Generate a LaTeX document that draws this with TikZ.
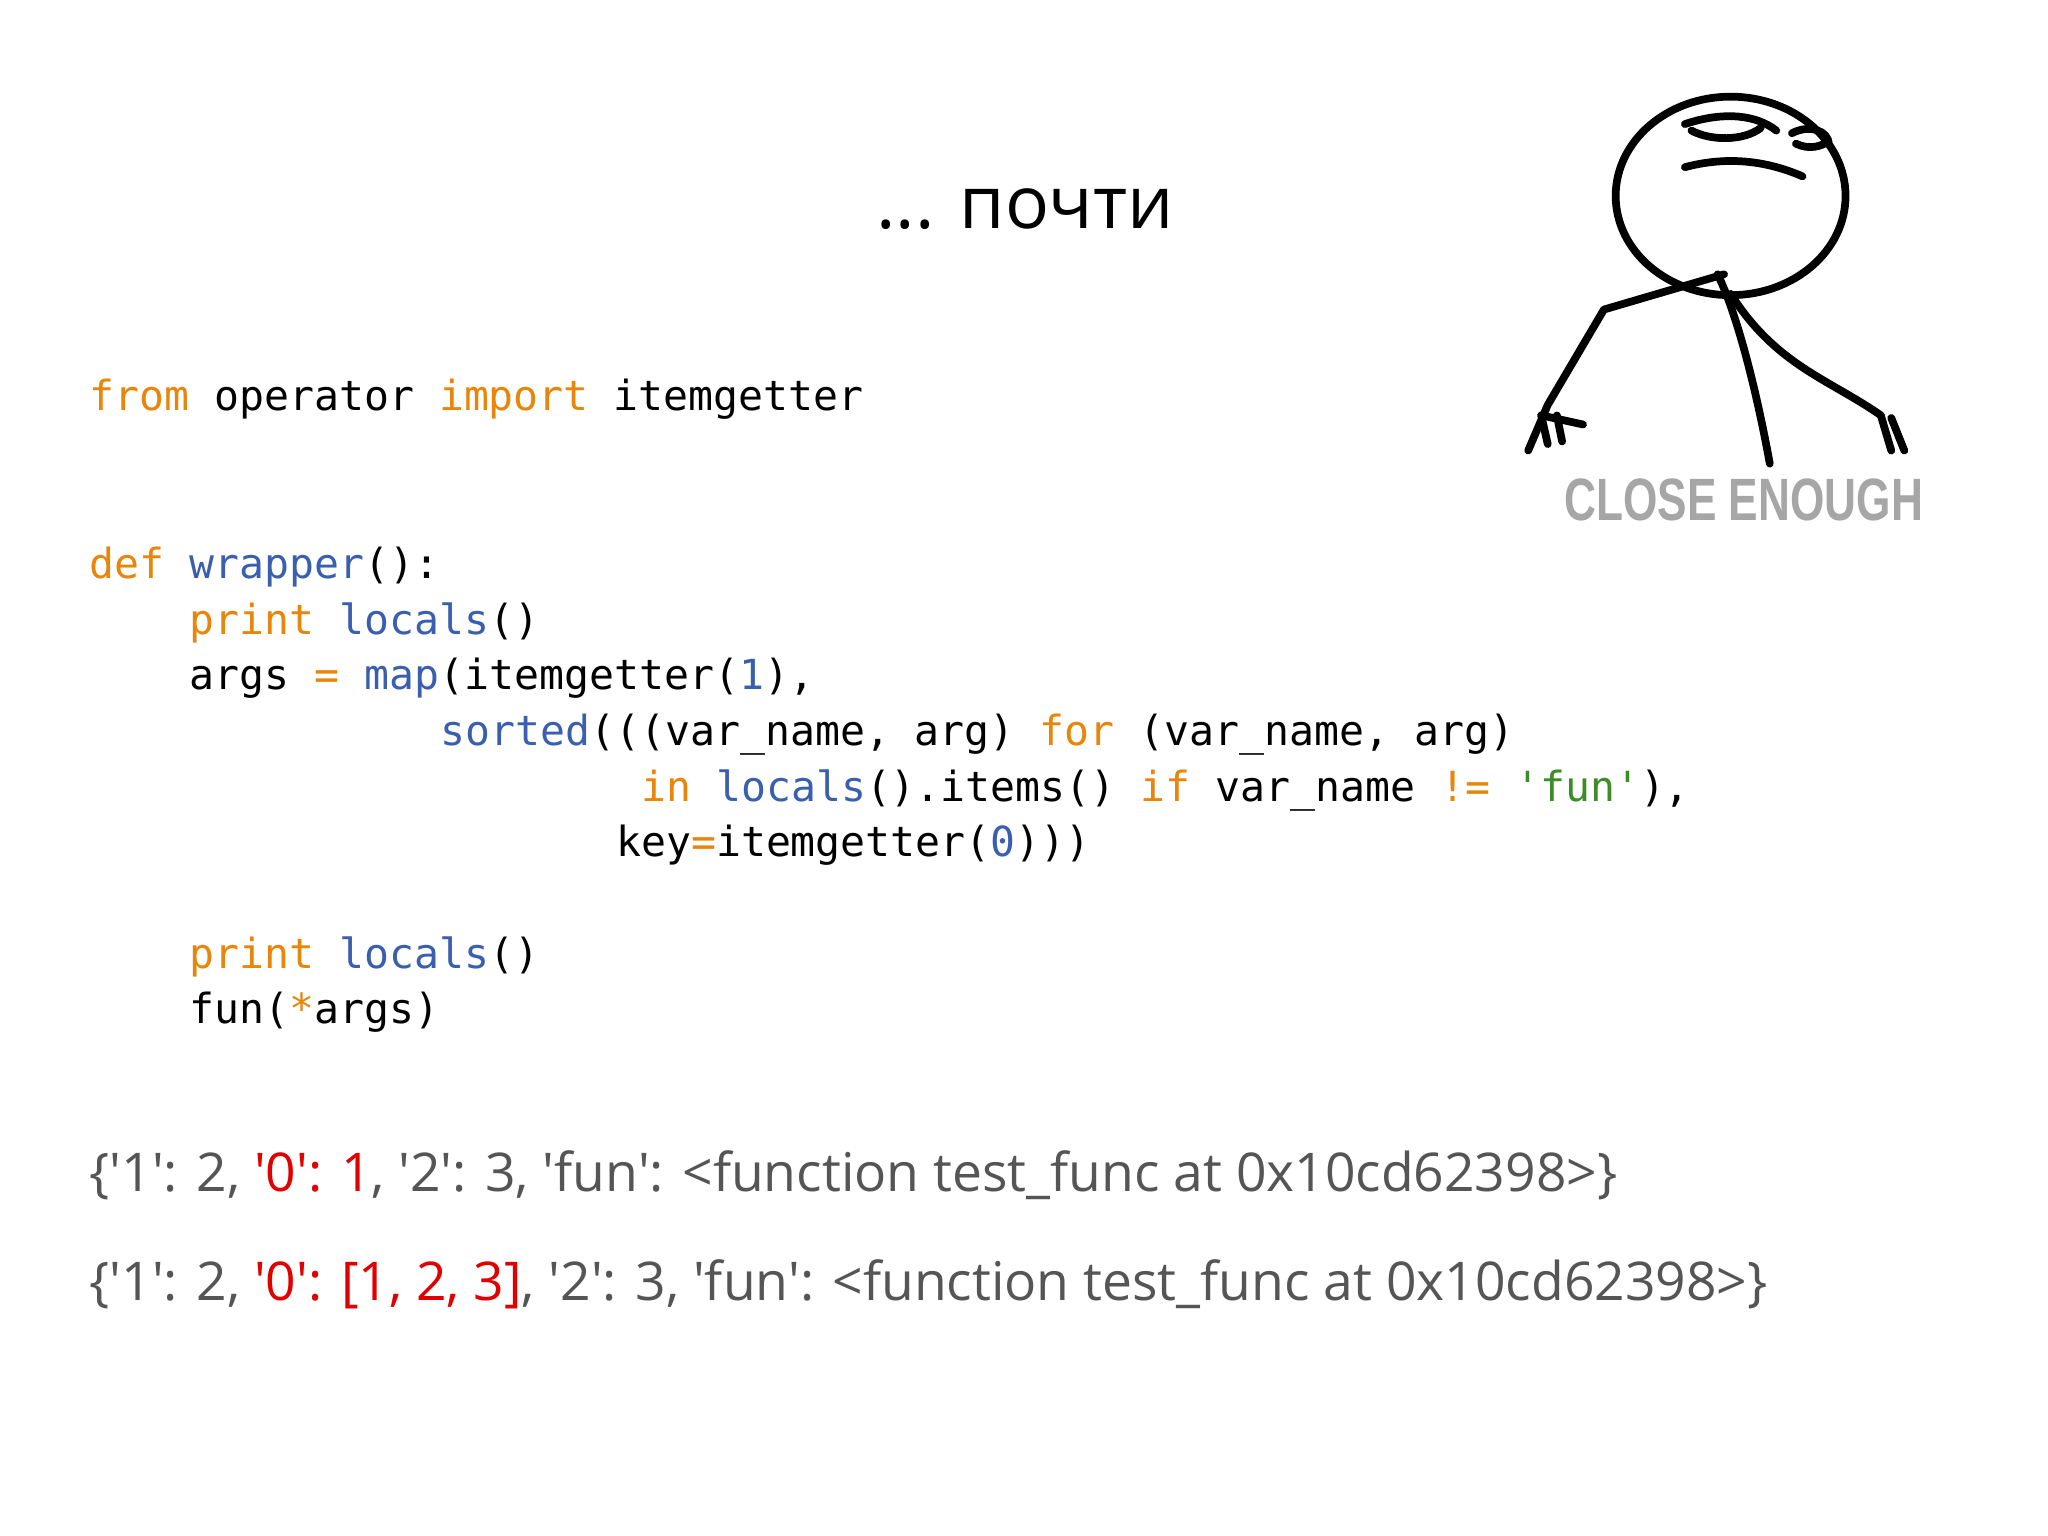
\documentclass[tikz,border=0pt]{standalone}
\usepackage{fontspec}
\newfontfamily\cod{DejaVu Sans Mono}
\newfontfamily\sans{Open Sans}
\newfontfamily\memef{Liberation Sans}
\definecolor{kw}{RGB}{232,134,12}
\definecolor{fn}{RGB}{58,95,175}
\definecolor{st}{RGB}{60,140,40}
\definecolor{rd}{RGB}{225,0,0}
\definecolor{gr}{RGB}{85,85,85}
\newcommand{\K}[1]{\textcolor{kw}{#1}}
\newcommand{\F}[1]{\textcolor{fn}{#1}}
\begin{document}
\begin{tikzpicture}[
  code/.style={anchor=base west,inner sep=0pt,font=\cod\fontsize{11.8pt}{15.8pt}\selectfont},
  outp/.style={anchor=base west,inner sep=0pt,text=gr,font=\sans\fontsize{15.2pt}{18pt}\selectfont},
  ink/.style={line width=2.2pt,line cap=round,line join=round}]
\useasboundingbox (0,0) rectangle (20.48,-15.36);
\node[anchor=base,inner sep=0pt,font=\sans\fontsize{20.8pt}{24pt}\selectfont] (title) at (10.25,-2.29) {... почти};
\node[code] (l1) at (0.888,-4.11) {\K{from} operator \K{import} itemgetter};
\node[code] (l2) at (0.888,-5.79) {\K{def} \F{wrapper}():};
\node[code] (l3) at (1.891,-6.35) {\K{print} \F{locals}()};
\node[code] (l4) at (1.891,-6.90) {args \K{=} \F{map}(itemgetter(\F{1}),};
\node[code] (l5) at (4.399,-7.46) {\F{sorted}(((var\_name, arg) \K{for} (var\_name, arg)};
\node[code] (l6) at (6.406,-8.01) {\K{in} \F{locals}().items() \K{if} var\_name \K{!=} \textcolor{st}{'fun'}),};
\node[code] (l7) at (6.155,-8.57) {key\K{=}itemgetter(\F{0})))};
\node[code] (l8) at (1.891,-9.68) {\K{print} \F{locals}()};
\node[code] (l9) at (1.891,-10.23) {fun(\K{*}args)};
\node[outp] (o1) at (0.888,-11.91) {\{'1': 2, \textcolor{rd}{'0': 1}, '2': 3, 'fun': <function test\_func at 0x10cd62398>\}};
\node[outp] (o2) at (0.888,-13.0) {\{'1': 2, \textcolor{rd}{'0': [1, 2, 3]}, '2': 3, 'fun': <function test\_func at 0x10cd62398>\}};
\begin{scope}[x=0.01306cm,y=-0.01306cm]
 \draw[ink] (1325,150) ellipse [x radius=88,y radius=76];
 \draw[ink] (1290,95) .. controls (1320,85) and (1345,88) .. (1360,100);
 \draw[ink] (1295,100) .. controls (1310,108) and (1335,108) .. (1348,98);
 \draw[ink] (1372,102) .. controls (1385,95) and (1400,100) .. (1400,110);
 \draw[ink] (1375,110) .. controls (1385,115) and (1395,112) .. (1400,108);
 \draw[ink] (1290,128) .. controls (1320,120) and (1350,122) .. (1380,135);
 \draw[ink] (1315,210) .. controls (1330,240) and (1345,300) .. (1355,355);
 \draw[ink] (1320,210) -- (1228,237) -- (1185,310) -- (1170,345);
 \draw[ink] (1180,318) -- (1212,325);
 \draw[ink] (1180,318) -- (1185,340);
 \draw[ink] (1192,318) -- (1196,338);
 \draw[ink] (1325,225) .. controls (1360,280) and (1400,290) .. (1440,318);
 \draw[ink] (1440,318) -- (1448,345);
 \draw[ink] (1448,320) -- (1458,345);
 \node[inner sep=0pt,font=\memef\bfseries\fontsize{17pt}{20pt}\selectfont,text=gray!70,xscale=0.74] (meme) at (1335,383) {CLOSE ENOUGH};
\end{scope}
\end{tikzpicture}
\end{document}
